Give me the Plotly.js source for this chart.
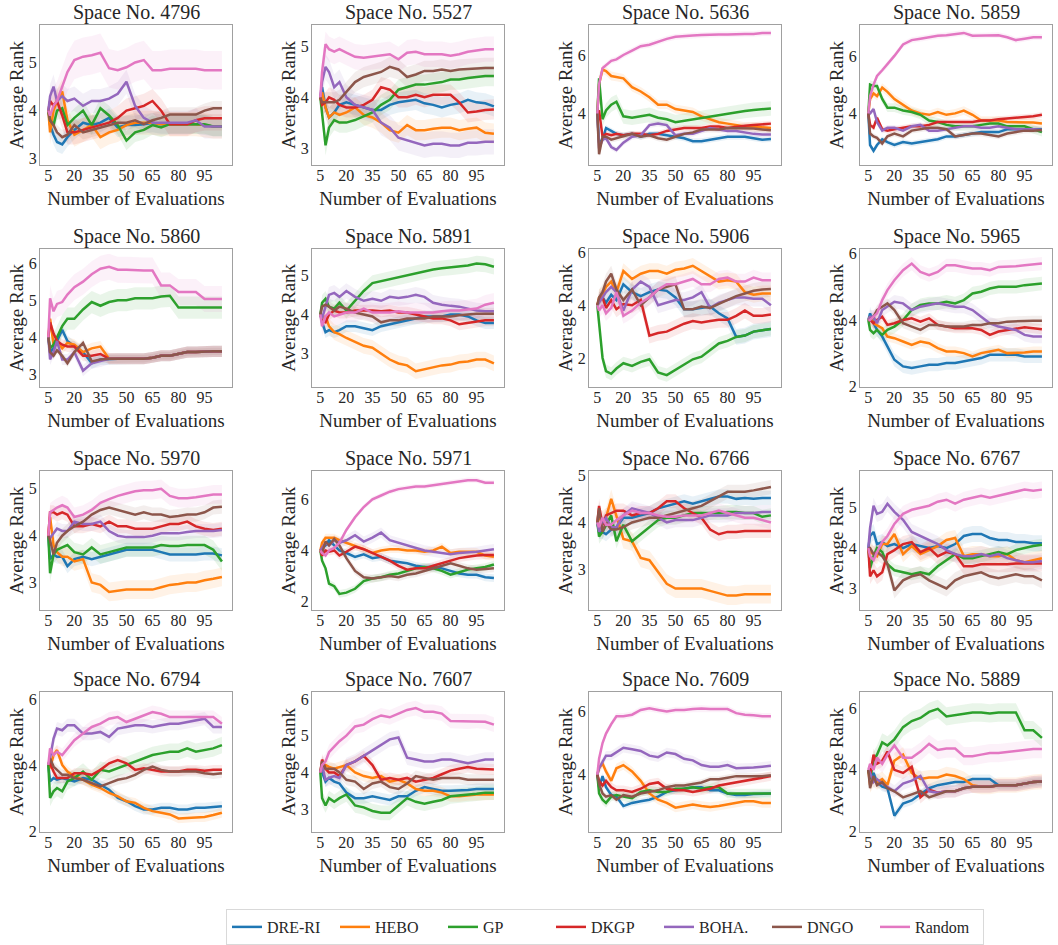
<!DOCTYPE html>
<html>
<head>
<meta charset="utf-8">
<script src="https://cdn.plot.ly/plotly-3.0.1.min.js"></script>
<style>html,body{margin:0;padding:0;background:#fff;}#chart{width:1058px;height:945px;}</style>
</head>
<body>
<div id="chart"></div>
<script>
// ---- data ----
const methods = ['DRE-RI','HEBO','GP','DKGP','BOHA.','DNGO','Random'];
const colors = ['#1f77b4','#ff7f0e','#2ca02c','#d62728','#9467bd','#8c564b','#e377c2'];
const evals = [5,6,8,10,13,16,20,25,30,35,40,45,50,55,60,65,70,75,80,85,90,95,100,105];
const xTicks = [5,20,35,50,65,80,95];
const spaces = ['4796','5527','5636','5859','5860','5891','5906','5965','5970','5971','6766','6767','6794','7607','7609','5889'];

const r4796 = [
 [4,3.7,3.5,3.35,3.3,3.45,3.6,3.75,3.7,3.75,3.85,3.65,3.7,3.7,3.72,3.75,3.72,3.72,3.72,3.72,3.72,3.7,3.67,3.67],
 [4,3.55,4.0,4.2,4.4,3.8,3.5,3.6,3.7,3.45,3.55,3.6,3.7,3.75,3.75,3.75,3.72,3.72,3.72,3.72,3.72,3.7,3.67,3.67],
 [4,3.8,3.7,4.0,4.05,3.7,3.85,4.0,3.7,4.05,3.9,3.7,3.38,3.55,3.6,3.7,3.65,3.72,3.72,3.72,3.72,3.72,3.67,3.67],
 [4,4.2,4.1,4.2,3.9,3.55,3.55,3.6,3.65,3.7,3.75,3.85,4.0,4.05,4.1,4.2,4.0,3.72,3.72,3.72,3.8,3.84,3.84,3.84],
 [4,4.3,4.5,4.2,4.3,4.2,4.25,4.1,4.2,4.2,4.25,4.35,4.6,4.1,3.85,3.75,3.75,3.75,3.75,3.75,3.8,3.67,3.67,3.67],
 [4,3.8,3.7,3.55,3.45,3.5,3.7,3.55,3.6,3.65,3.7,3.75,3.75,3.8,3.72,3.8,3.85,3.92,3.92,3.92,3.92,4.0,4.05,4.05],
 [4,3.9,4.1,4.2,4.5,4.8,5.05,5.12,5.15,5.2,4.88,4.84,4.9,5.0,5.05,4.84,4.84,4.87,4.87,4.87,4.87,4.84,4.84,4.84]
];
const r5527 = [
 [4,4.2,3.8,3.6,3.7,3.85,3.9,3.85,3.8,3.75,3.75,3.85,3.9,3.92,3.95,3.88,3.85,3.8,3.85,3.88,3.95,3.9,3.88,3.82],
 [4,4.1,3.8,3.6,3.7,3.65,3.7,3.8,3.65,3.6,3.5,3.35,3.3,3.45,3.35,3.35,3.38,3.4,3.4,3.35,3.38,3.4,3.3,3.28],
 [4,3.7,3.05,3.4,3.55,3.5,3.5,3.55,3.62,3.7,3.85,3.95,4.15,4.2,4.25,4.25,4.28,4.3,4.35,4.35,4.38,4.4,4.42,4.42],
 [4,3.85,3.9,4.0,3.95,3.85,3.8,3.8,3.85,3.95,4.2,4.15,4.0,4.0,4.05,4.0,4.05,4.05,4.05,3.9,3.7,3.72,3.75,3.76],
 [4,4.3,4.6,4.5,4.2,4.3,4.0,3.85,3.8,3.75,3.5,3.4,3.2,3.15,3.1,3.05,3.08,3.08,3.05,3.05,3.1,3.1,3.12,3.12],
 [4,3.9,3.9,3.9,3.9,3.95,4.1,4.3,4.4,4.45,4.5,4.6,4.55,4.4,4.45,4.52,4.52,4.55,4.52,4.55,4.56,4.58,4.58,4.58],
 [4,4.5,5.05,4.95,4.9,4.95,4.88,4.8,4.78,4.8,4.82,4.85,4.75,4.88,4.9,4.85,4.85,4.85,4.82,4.85,4.9,4.92,4.95,4.95]
];
const r5636 = [
 [4,3.0,3.1,3.5,3.4,3.3,3.25,3.3,3.2,3.3,3.3,3.25,3.2,3.15,3.05,3.05,3.1,3.15,3.2,3.2,3.2,3.15,3.1,3.12],
 [4,5.0,5.5,5.45,5.28,5.25,5.2,4.9,4.75,4.55,4.3,4.3,4.15,4.1,4.05,3.9,3.8,3.7,3.65,3.6,3.55,3.55,3.52,3.5],
 [4,5.2,3.8,4.1,4.3,4.4,3.9,3.85,3.9,3.95,3.85,3.8,3.7,3.75,3.8,3.85,3.9,3.95,4.0,4.05,4.08,4.12,4.15,4.17],
 [4,4.1,3.2,3.3,3.25,3.3,3.25,3.3,3.3,3.25,3.3,3.4,3.45,3.5,3.5,3.5,3.55,3.55,3.5,3.55,3.58,3.6,3.62,3.65],
 [4,2.8,3.1,3.15,2.85,2.75,3.0,3.2,3.25,3.6,3.65,3.6,3.25,3.3,3.3,3.4,3.5,3.45,3.4,3.4,3.35,3.3,3.28,3.28],
 [4,2.6,3.2,3.2,3.1,3.15,3.2,3.3,3.2,3.25,3.15,3.1,3.2,3.3,3.35,3.45,3.45,3.45,3.5,3.5,3.5,3.48,3.45,3.42],
 [4,5.0,5.55,5.65,5.8,5.85,6.0,6.15,6.3,6.35,6.45,6.55,6.62,6.65,6.67,6.68,6.7,6.7,6.7,6.72,6.72,6.72,6.75,6.75]
];
const r5859 = [
 [4,2.9,2.7,2.9,3.1,3.0,2.9,3.0,2.95,3.0,3.05,3.1,3.2,3.2,3.25,3.3,3.35,3.35,3.35,3.45,3.45,3.45,3.45,3.45],
 [4,4.5,4.7,4.6,4.9,4.75,4.5,4.3,4.1,4.0,3.95,4.05,3.95,4.0,4.1,3.95,3.75,3.75,3.75,3.7,3.7,3.7,3.68,3.65],
 [4,5.0,4.95,4.95,4.5,4.2,4.2,4.1,4.05,3.95,3.75,3.7,3.6,3.55,3.55,3.55,3.6,3.65,3.65,3.55,3.55,3.55,3.45,3.35],
 [4,3.6,3.5,3.85,3.45,3.4,3.45,3.5,3.55,3.55,3.6,3.7,3.7,3.7,3.7,3.7,3.75,3.75,3.8,3.82,3.85,3.88,3.9,3.95],
 [4,4.0,4.15,3.7,3.4,3.5,3.5,3.4,3.55,3.6,3.4,3.4,3.45,3.5,3.55,3.55,3.5,3.5,3.55,3.5,3.45,3.45,3.45,3.42],
 [4,3.3,3.2,3.15,2.95,3.2,3.3,3.2,3.4,3.45,3.5,3.5,3.45,3.2,3.25,3.3,3.3,3.25,3.2,3.3,3.35,3.4,3.4,3.42],
 [4,4.6,5.0,5.3,5.5,5.7,6.0,6.4,6.55,6.6,6.65,6.7,6.72,6.75,6.8,6.7,6.7,6.72,6.72,6.65,6.55,6.6,6.65,6.65]
];
const r5860 = [
 [4,3.6,3.7,3.9,4.2,3.9,3.75,3.6,3.3,3.4,3.42,3.42,3.42,3.42,3.42,3.45,3.5,3.5,3.55,3.6,3.6,3.62,3.62,3.62],
 [4,4.5,3.8,3.9,3.7,3.85,3.8,3.6,3.7,3.75,3.42,3.42,3.42,3.42,3.42,3.45,3.5,3.5,3.55,3.6,3.6,3.62,3.62,3.62],
 [4,3.7,3.8,4.0,4.3,4.5,4.5,4.75,4.95,4.85,4.95,5.0,5.0,5.05,5.05,5.05,5.1,5.12,4.8,4.8,4.8,4.8,4.8,4.8],
 [4,4.4,4.1,3.9,3.8,3.75,3.75,3.5,3.5,3.55,3.42,3.42,3.42,3.42,3.42,3.45,3.5,3.5,3.55,3.6,3.6,3.62,3.62,3.62],
 [4,3.4,3.6,3.9,3.4,3.4,3.6,3.1,3.3,3.35,3.42,3.42,3.42,3.42,3.42,3.45,3.5,3.5,3.55,3.6,3.6,3.62,3.62,3.62],
 [4,3.6,3.5,3.65,3.5,3.3,3.6,3.85,3.35,3.4,3.42,3.42,3.42,3.42,3.42,3.45,3.5,3.5,3.55,3.6,3.6,3.62,3.62,3.62],
 [4,5.05,4.7,4.9,4.95,5.15,5.35,5.5,5.7,5.85,5.9,5.82,5.82,5.8,5.8,5.8,5.4,5.4,5.22,5.22,5.22,5.03,5.03,5.03]
];
const r5891 = [
 [4,3.8,3.55,3.6,3.55,3.6,3.7,3.7,3.65,3.6,3.7,3.75,3.8,3.85,3.9,3.95,3.95,3.95,4.0,4.0,3.95,3.85,3.78,3.78],
 [4,3.9,3.95,3.7,3.55,3.5,3.4,3.3,3.2,3.15,3.0,2.85,2.75,2.7,2.55,2.6,2.65,2.7,2.72,2.78,2.8,2.85,2.85,2.75],
 [4,4.3,4.4,4.2,4.15,4.3,4.1,4.35,4.6,4.8,4.85,4.9,4.95,5.0,5.05,5.1,5.15,5.18,5.2,5.22,5.25,5.3,5.28,5.22],
 [4,3.85,3.8,4.0,4.1,4.05,4.05,4.1,4.1,4.1,4.08,4.1,4.05,4.05,4.0,3.95,3.9,3.9,3.85,3.75,3.78,3.82,3.85,3.85],
 [4,3.9,4.2,4.5,4.55,4.45,4.6,4.45,4.35,4.4,4.35,4.45,4.42,4.45,4.5,4.45,4.3,4.25,4.22,4.2,4.15,4.1,4.08,4.08],
 [4,4.2,4.25,4.2,4.1,4.2,4.15,4.05,4.0,3.95,3.8,3.85,3.85,3.9,3.9,3.9,3.95,3.95,3.95,3.98,4.0,4.02,4.02,4.02],
 [4,3.7,3.95,4.05,3.95,4.0,4.05,4.05,4.15,4.05,4.05,4.05,4.08,4.05,4.05,4.05,4.05,4.08,4.1,4.1,4.12,4.15,4.25,4.3]
];
const r5906 = [
 [4,4.2,4.3,4.1,4.4,4.2,4.8,4.5,4.35,4.5,4.6,4.55,4.3,3.85,3.85,3.9,3.95,3.7,3.5,2.8,2.85,3.0,3.05,3.1],
 [4,4.3,4.4,4.7,4.9,4.5,5.3,5.0,5.2,5.3,5.3,5.2,5.35,5.4,5.5,5.3,5.1,4.9,4.95,4.9,4.5,4.4,4.45,4.45],
 [4,3.3,2.0,1.5,1.4,1.6,1.8,1.7,1.85,1.95,1.45,1.35,1.55,1.75,1.95,2.05,2.3,2.55,2.65,2.8,2.85,3.0,3.05,3.1],
 [4,4.2,4.3,3.9,4.2,3.85,4.05,4.0,4.2,2.85,2.95,3.0,3.15,3.3,3.4,3.35,3.4,3.45,3.45,3.6,3.8,3.6,3.6,3.65],
 [4,4.1,4.3,4.5,4.7,4.5,3.8,4.6,4.9,4.7,4.0,4.1,4.2,4.2,4.3,4.5,3.9,4.1,4.2,4.3,4.3,4.25,4.25,4.0],
 [4,4.3,4.5,4.9,5.2,4.6,4.2,4.6,4.0,4.3,4.6,4.7,4.8,3.85,3.85,3.95,3.9,4.05,4.2,4.35,4.45,4.55,4.6,4.62],
 [4,3.8,4.0,3.7,3.9,4.5,3.6,3.8,4.1,4.3,4.6,4.8,4.8,4.9,5.0,4.8,4.8,5.0,5.05,4.9,4.9,5.05,4.95,4.95]
];
const r5965 = [
 [4,4.2,3.9,3.7,3.5,3.2,2.8,2.6,2.55,2.6,2.65,2.65,2.7,2.7,2.75,2.8,2.85,2.95,2.95,2.95,2.95,2.9,2.9,2.9],
 [4,4.1,3.9,3.85,3.75,3.5,3.45,3.35,3.25,3.35,3.3,3.15,3.05,3.05,3.0,2.9,3.0,3.05,3.1,3.0,3.0,3.02,3.05,3.05],
 [4,3.7,3.6,3.7,3.55,3.7,3.8,4.0,4.3,4.45,4.5,4.5,4.55,4.5,4.6,4.8,4.85,4.95,5.0,5.0,5.0,5.05,5.07,5.1],
 [4,4.0,3.9,4.0,4.1,3.85,3.9,4.0,4.05,3.95,4.05,3.85,3.8,3.75,3.75,3.75,3.7,3.55,3.65,3.7,3.75,3.78,3.75,3.72],
 [4,4.1,4.1,3.9,4.3,4.4,4.55,4.5,4.3,4.4,4.45,4.5,4.45,4.4,4.4,4.3,4.1,3.9,3.8,3.75,3.7,3.55,3.5,3.5],
 [4,4.0,4.1,4.3,4.4,4.5,4.3,3.9,3.8,3.7,3.85,3.85,3.8,3.8,3.8,3.85,3.85,3.9,3.9,3.95,3.95,3.97,3.98,3.98],
 [4,4.0,4.1,4.2,4.6,4.9,5.2,5.5,5.7,5.45,5.35,5.45,5.65,5.65,5.6,5.55,5.55,5.5,5.6,5.6,5.62,5.65,5.68,5.7]
];
const r5970 = [
 [4,3.5,3.6,3.55,3.55,3.35,3.5,3.55,3.5,3.55,3.6,3.65,3.7,3.7,3.7,3.7,3.65,3.6,3.6,3.6,3.6,3.62,3.62,3.58],
 [4,4.4,3.8,3.65,3.55,3.55,3.45,3.5,3.0,2.95,2.8,2.82,2.85,2.85,2.85,2.85,2.9,2.95,2.97,3.0,3.0,3.05,3.08,3.12],
 [4,3.2,3.6,3.7,3.75,3.8,3.65,3.6,3.75,3.6,3.65,3.7,3.75,3.75,3.75,3.75,3.8,3.78,3.78,3.8,3.8,3.8,3.7,3.45],
 [4,4.5,4.5,4.45,4.5,4.45,4.2,4.2,4.25,4.2,4.3,4.2,4.2,4.15,4.15,4.15,4.2,4.25,4.25,4.3,4.2,4.15,4.12,4.15],
 [4,3.95,4.05,4.15,4.1,4.1,4.3,4.25,4.25,4.3,4.1,4.0,3.97,3.97,3.97,4.0,4.05,4.05,4.05,4.08,4.1,4.1,4.1,4.12],
 [4,3.9,3.6,3.85,4.0,4.1,4.2,4.3,4.45,4.55,4.6,4.55,4.5,4.45,4.5,4.45,4.45,4.4,4.42,4.45,4.45,4.5,4.6,4.62],
 [4,4.5,4.55,4.6,4.65,4.6,4.4,4.45,4.55,4.7,4.78,4.85,4.9,4.95,4.97,4.97,5.0,4.85,4.8,4.8,4.82,4.85,4.88,4.88]
];
const r5971 = [
 [4,4.1,4.2,4.4,4.2,4.0,3.9,3.75,3.85,3.7,3.75,3.6,3.55,3.5,3.4,3.35,3.35,3.3,3.2,3.1,3.05,3.05,2.95,2.92],
 [4,4.3,4.5,4.5,4.5,4.4,4.3,4.2,4.05,3.9,4.0,4.05,4.05,4.0,4.0,3.95,4.0,4.15,3.9,3.95,3.95,3.95,3.8,3.75],
 [4,3.6,3.3,2.7,2.6,2.3,2.35,2.5,2.8,2.9,2.95,3.05,3.1,3.2,3.3,3.35,3.3,3.2,3.05,3.15,3.25,3.3,3.35,3.45],
 [4,3.8,4.0,3.95,4.0,3.8,3.95,4.15,4.05,3.9,3.75,3.6,3.4,3.25,3.3,3.3,3.4,3.5,3.6,3.7,3.75,3.8,3.82,3.82],
 [4,4.1,4.3,4.2,4.4,4.3,4.4,4.6,4.35,4.5,4.7,4.4,4.3,4.2,4.1,4.0,3.95,3.9,3.85,3.9,3.92,3.95,4.0,4.05],
 [4,3.9,4.35,4.2,4.45,4.2,3.7,3.2,2.95,2.9,2.95,3.0,2.95,3.05,3.1,3.2,3.3,3.4,3.5,3.4,3.3,3.25,3.28,3.3],
 [4,3.9,3.8,4.0,4.1,4.3,4.8,5.3,5.7,6.0,6.15,6.3,6.4,6.45,6.5,6.5,6.55,6.6,6.65,6.7,6.75,6.75,6.65,6.65]
];
const r6766 = [
 [4,3.8,3.8,3.75,3.85,3.9,4.1,4.1,4.15,4.2,4.3,4.35,4.4,4.45,4.4,4.45,4.5,4.55,4.55,4.5,4.52,4.5,4.52,4.52],
 [4,4.1,4.05,4.1,4.5,4.15,3.65,3.6,3.25,3.2,2.95,2.7,2.6,2.6,2.6,2.6,2.55,2.5,2.45,2.45,2.48,2.48,2.48,2.48],
 [4,3.7,3.8,3.95,4.15,3.6,3.95,3.6,3.75,3.9,4.05,4.1,4.1,4.15,4.2,4.2,4.2,4.2,4.22,4.22,4.2,4.2,4.12,4.15],
 [4,4.35,3.95,4.15,4.2,4.25,4.25,4.15,4.2,4.2,4.3,4.45,4.45,4.3,4.2,4.1,3.85,3.75,3.8,3.8,3.82,3.82,3.82,3.82],
 [4,3.8,4.0,4.1,3.9,3.9,4.15,4.3,4.25,4.2,4.1,4.0,4.05,4.05,4.05,4.1,4.15,4.15,4.15,4.2,4.2,4.2,4.22,4.22],
 [4,4.3,3.8,4.0,3.85,3.85,3.9,4.0,4.05,4.1,4.1,4.15,4.2,4.25,4.3,4.35,4.45,4.55,4.65,4.65,4.65,4.68,4.72,4.75],
 [4,3.9,4.1,3.95,3.95,4.05,4.15,4.25,4.2,4.2,4.15,4.12,4.12,4.15,4.15,4.15,4.2,4.25,4.2,4.15,4.1,4.1,4.05,4.0]
];
const r6767 = [
 [4,4.3,4.4,4.1,4.15,4.05,4.1,4.0,4.1,4.05,4.0,4.05,4.0,4.1,4.3,4.35,4.35,4.25,4.2,4.2,4.15,4.15,4.12,4.12],
 [4,3.9,3.85,3.8,4.1,4.1,4.35,3.85,4.05,3.85,3.95,4.05,4.2,4.25,3.8,3.85,3.85,3.8,3.8,3.85,3.7,3.65,3.7,3.75],
 [4,3.5,3.8,4.0,3.9,3.6,3.45,3.4,3.35,3.4,3.35,3.55,3.7,3.85,3.75,3.75,3.8,3.85,3.9,3.85,3.95,4.0,4.05,4.08],
 [4,3.3,3.45,3.3,3.4,3.85,3.95,4.1,4.15,3.9,4.0,3.8,3.9,3.85,3.55,3.55,3.6,3.6,3.6,3.6,3.62,3.62,3.62,3.62],
 [4,4.5,5.05,4.85,4.9,5.1,4.9,4.7,4.4,4.3,4.2,4.1,3.95,3.85,3.8,3.8,3.85,3.8,3.85,3.75,3.7,3.65,3.65,3.68],
 [4,4.0,3.85,3.9,3.8,3.6,2.95,3.2,3.3,3.35,3.2,3.1,3.0,3.2,3.3,3.35,3.4,3.3,3.25,3.3,3.35,3.3,3.3,3.2],
 [4,3.8,3.7,3.9,4.15,4.3,4.6,4.85,4.95,5.0,5.05,5.15,5.2,5.1,5.2,5.25,5.3,5.25,5.3,5.35,5.4,5.45,5.42,5.45]
];
const r6794 = [
 [4,3.5,3.6,3.55,3.6,3.55,3.5,3.6,3.55,3.4,3.25,3.0,2.9,2.75,2.65,2.65,2.7,2.7,2.65,2.65,2.7,2.7,2.72,2.75],
 [4,3.9,4.3,4.45,4.0,3.8,3.65,3.55,3.4,3.3,3.15,3.05,2.9,2.85,2.7,2.6,2.55,2.5,2.38,2.4,2.42,2.42,2.48,2.55],
 [4,3.0,3.2,3.3,3.2,3.5,3.6,3.8,3.55,3.85,3.8,3.9,4.0,4.1,4.2,4.3,4.35,4.4,4.4,4.5,4.4,4.45,4.5,4.6],
 [4,4.05,3.8,3.6,3.6,3.6,3.75,3.75,3.7,3.85,4.05,4.15,4.05,3.85,3.9,3.85,3.8,3.8,3.8,3.85,3.85,3.82,3.85,3.85],
 [4,4.2,4.8,5.1,5.05,5.2,5.2,4.95,4.95,5.0,4.85,5.1,5.15,5.2,5.2,5.15,5.2,5.25,5.25,5.3,5.35,5.4,5.15,5.15],
 [4,4.2,3.95,3.85,3.7,3.7,3.6,3.55,3.45,3.35,3.45,3.55,3.6,3.7,3.85,3.95,3.85,3.8,3.8,3.8,3.8,3.75,3.72,3.75],
 [4,4.5,4.3,4.4,4.3,4.5,4.75,4.95,5.15,5.25,5.4,5.45,5.3,5.4,5.5,5.6,5.55,5.45,5.45,5.45,5.45,5.45,5.45,5.25]
];
const r7607 = [
 [4,4.0,3.75,3.85,3.75,3.7,3.45,3.3,3.3,3.35,3.3,3.25,3.35,3.35,3.5,3.6,3.55,3.5,3.5,3.5,3.52,3.55,3.55,3.55],
 [4,4.2,4.2,4.15,4.1,4.15,4.2,4.0,3.9,3.85,3.9,3.75,3.8,3.7,3.55,3.5,3.5,3.45,3.35,3.35,3.38,3.4,3.4,3.4],
 [4,3.3,3.1,3.3,3.2,3.3,3.4,3.1,3.05,2.95,2.9,2.9,3.1,3.3,3.2,3.15,3.2,3.25,3.35,3.38,3.4,3.42,3.45,3.45],
 [4,4.35,4.1,4.0,4.0,3.9,4.2,4.3,4.45,4.2,3.8,3.85,3.8,3.85,3.75,3.8,3.85,3.95,4.05,4.1,4.15,4.1,4.1,4.08],
 [4,4.2,3.8,3.85,3.9,3.85,4.2,4.3,4.45,4.6,4.75,4.9,4.95,4.4,4.35,4.3,4.3,4.35,4.35,4.3,4.25,4.3,4.35,4.35],
 [4,4.3,4.1,4.1,4.1,4.0,3.8,3.75,3.55,3.7,3.75,3.6,3.55,3.7,3.9,3.85,3.8,3.85,3.85,3.85,3.8,3.8,3.8,3.8],
 [4,4.2,4.3,4.55,4.7,4.85,5.0,5.25,5.3,5.45,5.55,5.5,5.6,5.7,5.75,5.65,5.65,5.6,5.4,5.4,5.38,5.4,5.38,5.3]
];
const r7609 = [
 [4,3.6,3.95,3.6,3.35,3.3,3.0,3.1,3.15,3.2,3.3,3.45,3.5,3.55,3.6,3.6,3.5,3.5,3.4,3.35,3.35,3.38,3.38,3.4],
 [4,4.2,4.35,4.1,3.8,4.2,4.3,4.1,3.8,3.4,3.2,3.1,2.95,3.0,3.05,3.0,2.97,3.0,3.05,3.1,3.15,3.15,3.1,3.1],
 [4,3.4,3.2,3.1,3.3,3.35,3.3,3.25,3.45,3.5,3.45,3.45,3.55,3.55,3.6,3.55,3.6,3.6,3.4,3.4,3.42,3.42,3.4,3.4],
 [4,3.8,3.65,3.8,3.6,3.5,3.5,3.45,3.55,3.7,3.75,3.55,3.5,3.5,3.45,3.5,3.55,3.65,3.7,3.75,3.8,3.85,3.9,3.95],
 [4,4.2,4.4,4.6,4.6,4.7,4.85,4.8,4.75,4.6,4.55,4.7,4.65,4.5,4.45,4.3,4.25,4.25,4.3,4.2,4.2,4.22,4.25,4.28],
 [4,3.7,3.4,3.3,3.35,3.2,3.35,3.3,3.4,3.45,3.5,3.6,3.65,3.65,3.7,3.75,3.85,3.85,3.9,3.95,3.95,3.95,3.95,3.98],
 [4,4.5,5.0,5.3,5.6,5.85,5.85,5.9,6.05,6.1,6.05,6.0,6.05,6.05,6.08,6.1,6.08,6.08,6.08,5.95,5.9,5.88,5.85,5.85]
];
const r5889 = [
 [4,3.7,3.9,3.6,3.45,3.4,2.5,2.9,3.0,3.2,3.4,3.5,3.55,3.6,3.6,3.7,3.7,3.7,3.5,3.5,3.5,3.55,3.6,3.62],
 [4,3.5,3.7,3.6,3.7,3.5,4.3,4.5,3.9,3.7,3.75,3.75,3.85,3.8,3.7,3.5,3.45,3.45,3.5,3.5,3.5,3.55,3.6,3.62],
 [4,3.7,4.3,4.5,4.9,4.8,5.0,5.4,5.6,5.7,5.9,6.0,5.75,5.8,5.85,5.88,5.88,5.85,5.88,5.88,5.88,5.3,5.3,5.05],
 [4,3.8,4.5,4.2,4.3,4.6,4.0,3.9,4.1,3.1,3.35,3.25,3.3,3.3,3.4,3.45,3.45,3.45,3.5,3.5,3.5,3.55,3.6,3.62],
 [4,3.9,3.6,3.7,3.55,3.45,3.3,3.55,3.65,3.8,3.3,3.25,3.3,3.3,3.4,3.45,3.45,3.45,3.5,3.5,3.5,3.55,3.6,3.62],
 [4,3.4,3.8,3.5,3.6,3.4,3.3,3.1,3.2,3.3,3.1,3.2,3.3,3.3,3.4,3.45,3.45,3.45,3.5,3.5,3.5,3.55,3.6,3.62],
 [4,4.2,4.0,4.4,4.2,4.5,4.8,4.4,4.4,4.6,4.85,4.65,4.7,4.7,4.45,4.45,4.5,4.55,4.55,4.58,4.6,4.65,4.68,4.68]
];

// half-width of the shaded band (per method) for each space
const b4796 = [0.2,0.25,0.2,0.25,0.25,0.15,0.4];
const b5527 = [0.2,0.2,0.2,0.2,0.25,0.2,0.25];
const b5636 = [0.1,0.15,0.25,0.1,0.1,0.1,0.1];
const b5859 = [0.1,0.15,0.15,0.1,0.1,0.1,0.1];
const b5860 = [0.15,0.15,0.3,0.15,0.15,0.1,0.35];
const b5891 = [0.15,0.2,0.2,0.15,0.2,0.15,0.25];
const b5906 = [0.3,0.3,0.25,0.3,0.3,0.3,0.3];
const b5965 = [0.2,0.15,0.2,0.15,0.2,0.15,0.2];
const b5970 = [0.15,0.2,0.2,0.15,0.15,0.15,0.2];
const b5971 = [0.15,0.15,0.15,0.15,0.2,0.15,0.1];
const b6766 = [0.15,0.2,0.15,0.15,0.15,0.15,0.15];
const b6767 = [0.2,0.2,0.15,0.2,0.2,0.2,0.2];
const b6794 = [0.15,0.15,0.25,0.15,0.2,0.15,0.2];
const b7607 = [0.15,0.15,0.2,0.15,0.2,0.15,0.2];
const b7609 = [0.1,0.15,0.15,0.15,0.15,0.1,0.1];
const b5889 = [0.15,0.25,0.3,0.2,0.2,0.1,0.3];

const yTicks = [[3,4,5],[3,4,5],[4,6],[4,6],[3,4,5,6],[3,4,5],[2,4,6],[2,4,6],[3,4,5],[2,4,6],[3,4,5],[3,4,5],[2,4,6],[3,4,5,6],[4,6],[2,4,6]];

// ---- layout / styling ----
const series = [r4796,r5527,r5636,r5859,r5860,r5891,r5906,r5965,r5970,r5971,r6766,r6767,r6794,r7607,r7609,r5889];
const bands = [b4796,b5527,b5636,b5859,b5860,b5891,b5906,b5965,b5970,b5971,b6766,b6767,b6794,b7607,b7609,b5889];
const yRanges = [[2.87,5.78],[2.66,5.43],[2.23,7.03],[2.2,7.08],[2.66,6.39],[2.15,5.68],[0.9,6.15],[1.98,6.15],[2.42,5.37],[1.68,7.09],[2.15,5.08],[2.47,5.9],[1.98,6.2],[2.39,6.18],[2.19,6.61],[1.98,6.54]];

const W = 1058, H = 945;
const colLeft = [40, 312, 589, 860];
const plotW = 192;
const rowTop = [25, 250, 474, 696];
const rowBot = [166, 389, 613, 836];
const FONT = "'Liberation Serif', 'DejaVu Serif', serif";
const TXT = '#262626';

function rgba(hex, a) {
  const n = parseInt(hex.slice(1), 16);
  return 'rgba(' + ((n >> 16) & 255) + ',' + ((n >> 8) & 255) + ',' + (n & 255) + ',' + a + ')';
}

const traces = [];
const layout = {
  width: W, height: H,
  margin: {l: 0, r: 0, t: 0, b: 0},
  paper_bgcolor: '#fff', plot_bgcolor: '#fff',
  font: {family: FONT, color: TXT},
  hovermode: false,
  showlegend: true,
  legend: {
    orientation: 'h', x: 226 / W, xanchor: 'left', y: 1 - 914 / H, yanchor: 'top',
    font: {family: FONT, size: 16, color: TXT},
    bordercolor: '#d9d9d9', borderwidth: 1, bgcolor: '#fff',
    entrywidth: 63, entrywidthmode: 'pixels', itemwidth: 30, traceorder: 'normal'
  },
  annotations: []
};

spaces.forEach((sp, k) => {
  const r = Math.floor(k / 4), c = k % 4;
  const xa = 'x' + (k === 0 ? '' : k + 1);
  const ya = 'y' + (k === 0 ? '' : k + 1);
  const xk = 'xaxis' + (k === 0 ? '' : k + 1);
  const yk = 'yaxis' + (k === 0 ? '' : k + 1);
  const data = series[k], bw = bands[k];
  methods.forEach((m, i) => {
    const upper = data[i].map((v, j) => v + (j === 0 ? 0 : bw[i]));
    const lower = data[i].map((v, j) => v - (j === 0 ? 0 : bw[i]));
    traces.push({
      type: 'scatter', mode: 'lines', xaxis: xa, yaxis: ya,
      x: evals.concat(evals.slice().reverse()),
      y: upper.concat(lower.slice().reverse()),
      fill: 'toself', fillcolor: rgba(colors[i], 0.1),
      line: {width: 0, color: 'rgba(0,0,0,0)'}, showlegend: false, hoverinfo: 'skip'
    });
  });
  methods.forEach((m, i) => {
    traces.push({
      type: 'scatter', mode: 'lines', xaxis: xa, yaxis: ya,
      x: evals, y: data[i], name: m, legendgroup: m,
      showlegend: k === 0,
      line: {color: colors[i], width: 2.5}
    });
  });
  const x0 = colLeft[c] / W, x1 = (colLeft[c] + plotW) / W;
  const y0 = 1 - rowBot[r] / H, y1 = 1 - rowTop[r] / H;
  layout[xk] = {
    domain: [x0, x1], anchor: ya, range: [0.2, 110.8],
    tickvals: xTicks, ticks: '', ticklen: 0, ticklabelstandoff: -4,
    showgrid: false, zeroline: false,
    showline: true, mirror: true, linecolor: '#a0a0a0', linewidth: 1,
    tickfont: {family: FONT, size: 16, color: TXT},
    title: {text: 'Number of Evaluations', font: {family: FONT, size: 19, color: TXT}, standoff: 8},
    automargin: false, fixedrange: true
  };
  layout[yk] = {
    domain: [y0, y1], anchor: xa, range: yRanges[k],
    tickvals: yTicks[k], ticks: '', ticklen: 0, ticklabelstandoff: -1,
    showgrid: false, zeroline: false,
    showline: true, mirror: true, linecolor: '#a0a0a0', linewidth: 1,
    tickfont: {family: FONT, size: 16, color: TXT},
    title: {text: 'Average Rank', font: {family: FONT, size: 19, color: TXT}, standoff: 0},
    automargin: false, fixedrange: true
  };
  layout.annotations.push({
    text: 'Space No. ' + sp, xref: 'paper', yref: 'paper',
    x: (x0 + x1) / 2, y: y1, xanchor: 'center', yanchor: 'bottom', yshift: -1,
    showarrow: false, font: {family: FONT, size: 20, color: TXT}
  });
});

Plotly.newPlot('chart', traces, layout, {displayModeBar: false, staticPlot: true});
</script>
</body>
</html>
